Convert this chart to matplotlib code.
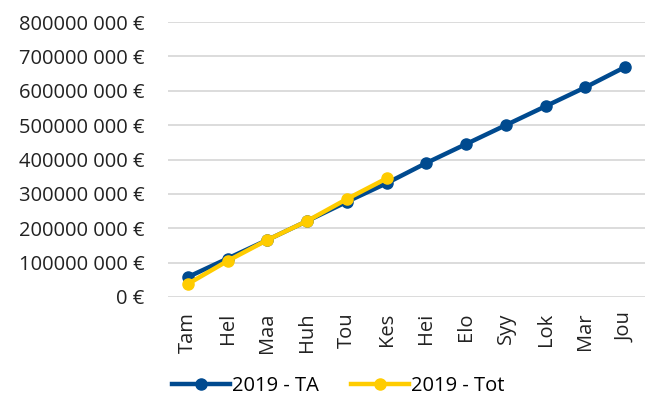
import matplotlib
matplotlib.use("Agg")
import matplotlib.pyplot as plt

months = ["Tam", "Hel", "Maa", "Huh", "Tou", "Kes", "Hei", "Elo", "Syy", "Lok", "Mar", "Jou"]
ta_values = [58e6, 112e6, 166e6, 221e6, 277e6, 331e6, 390e6, 445e6, 500e6, 555e6, 610e6, 669e6]
tot_values = [38e6, 105e6, 166e6, 221e6, 285e6, 345e6]
y_ticks = [0, 100e6, 200e6, 300e6, 400e6, 500e6, 600e6, 700e6, 800e6]
y_labels = ["0 €", "100000 000 €", "200000 000 €", "300000 000 €", "400000 000 €",
            "500000 000 €", "600000 000 €", "700000 000 €", "800000 000 €"]

plt.rcParams['font.family'] = ['Open Sans', 'DejaVu Sans']

fig = plt.figure(figsize=(6.48, 4.05), dpi=100)
ax = fig.add_axes([168/648, 1-297/405, 477/648, 275/405])

blue = "#004A8F"
yellow = "#FFCC00"
x = list(range(len(months)))
ax.plot(x, ta_values, color=blue, lw=3.2, marker="o", ms=8, label="2019 - TA", zorder=3)
ax.plot(x[:len(tot_values)], tot_values, color=yellow, lw=3.2, marker="o", ms=8, label="2019 - Tot", zorder=4)

ax.set_xlim(-0.5, len(months) - 0.5)
ax.set_ylim(0, 800e6)
ax.set_yticks(y_ticks)
ax.set_yticklabels(y_labels, fontsize=14.5, color="#222222")
ax.set_xticks(x)
ax.set_xticklabels(months, rotation=90, fontsize=14.5, color="#222222")
ax.tick_params(axis='y', length=0, pad=17)
ax.tick_params(axis='x', length=0, pad=11)
ax.yaxis.grid(True, color="#D9D9D9", lw=1.3)
ax.set_axisbelow(True)
for s in ax.spines.values():
    s.set_visible(False)

leg = fig.legend(loc="center", bbox_to_anchor=(0.522, 1-386/405), ncol=2, frameon=False,
                 fontsize=14.5, handlelength=2.9, handletextpad=0.1, columnspacing=1.6)

fig.savefig("out.png", dpi=100)
